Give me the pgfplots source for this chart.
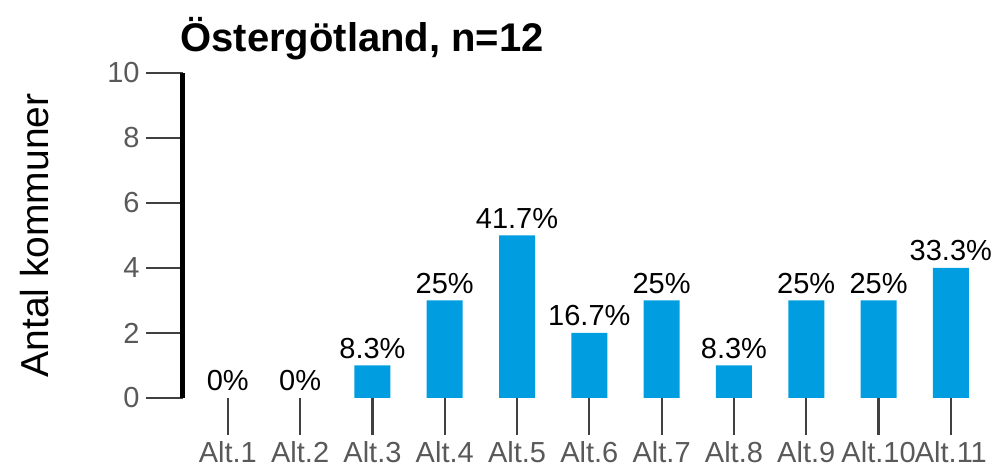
\documentclass[border=0pt]{standalone}
\usepackage{pgfplots}
\pgfplotsset{compat=1.18}
\usepackage{fontspec}
\setmainfont{Liberation Sans}
\definecolor{barblue}{RGB}{0,158,224}
\definecolor{tickgray}{RGB}{89,89,89}
\definecolor{tickline}{RGB}{64,64,64}
\begin{document}
\begin{tikzpicture}
\begin{axis}[
  scale only axis, width=402pt, height=162.5pt,
  xmin=0.38, xmax=11.5, ymin=0, ymax=10,
  axis x line=bottom, axis y line=left,
  x axis line style={draw=none,-},
  y axis line style={line width=2.5pt,-,black},
  clip=false,
  ytick={0,2,4,6,8,10},
  xtick={1,...,11},
  xticklabels={Alt.1,Alt.2,Alt.3,Alt.4,Alt.5,Alt.6,Alt.7,Alt.8,Alt.9,Alt.10,Alt.11},
  tick align=outside,
  major tick length=18.5pt,
  tick style={tickline, line width=1.1pt},
  tick label style={font=\fontsize{14.5}{14.5}\selectfont, text=tickgray},
  /pgf/number format/assume math mode=true,
  xticklabel style={inner sep=3pt},
  yticklabel style={inner sep=3pt},
]
\addplot[ybar, bar width=18pt, fill=barblue, draw=none,
  nodes near coords, point meta=explicit symbolic,
  nodes near coords style={font=\fontsize{14.5}{14.5}\selectfont, text=black}]
coordinates {
(3,1) [8.3\%]
(4,3) [25\%]
(5,5) [41.7\%]
(6,2) [16.7\%]
(7,3) [25\%]
(8,1) [8.3\%]
(9,3) [25\%]
(10,3) [25\%]
(11,4) [33.3\%]
};
\addplot[ybar, bar width=18pt, fill=none, draw=none,
  nodes near coords, point meta=explicit symbolic,
  nodes near coords style={font=\fontsize{14.5}{14.5}\selectfont, text=black}]
coordinates {
(1,0) [0\%]
(2,0) [0\%]
};
\coordinate (O) at (rel axis cs:0,0);
\node[anchor=base west, font=\bfseries\fontsize{20}{20}\selectfont, inner sep=0pt]
  at ([xshift=-1.5pt,yshift=10.5pt]rel axis cs:0,1) {Östergötland, n=12};
\node[rotate=90, font=\fontsize{19.5}{19.5}\selectfont, inner sep=0pt]
  at ([xshift=-74pt]rel axis cs:0,0.5) {Antal kommuner};
\end{axis}
\path (O) ++(-91.5pt,-35pt) rectangle ++(502.5pt,234pt);
\end{tikzpicture}
\end{document}
